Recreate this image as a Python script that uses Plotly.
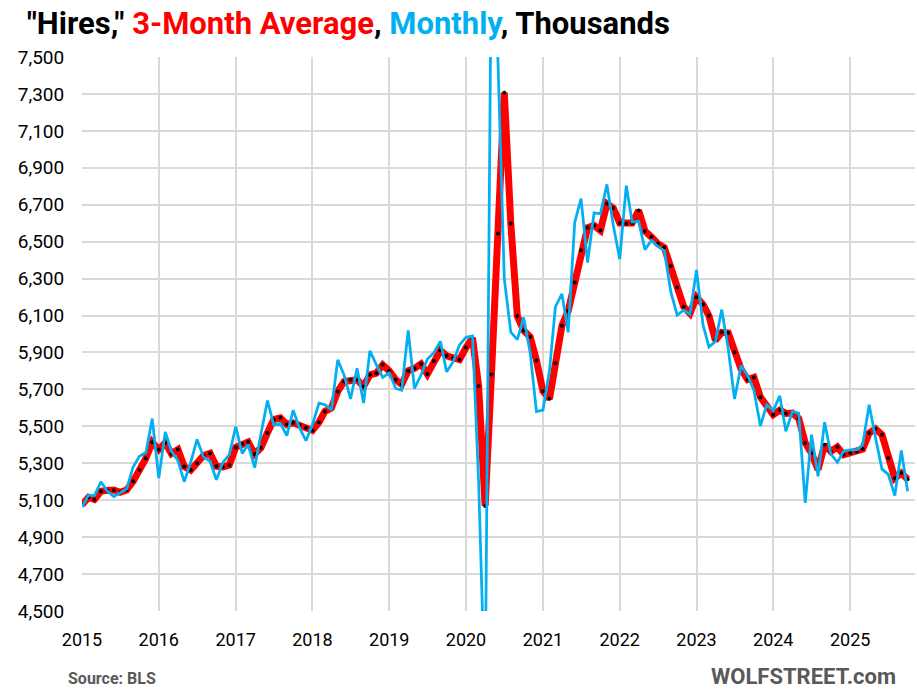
import pandas as pd
import plotly.graph_objects as go

months = pd.date_range("2015-01-01", periods=130, freq="MS")

monthly = [
    5063, 5127, 5125, 5200, 5150, 5120, 5140, 5160, 5280, 5338, 5358, 5542,
    5219, 5470, 5365, 5315, 5200, 5305, 5429, 5333, 5311, 5211, 5305, 5345,
    5499, 5353, 5402, 5276, 5460, 5640, 5507, 5516, 5450, 5587, 5490, 5422,
    5510, 5626, 5617, 5590, 5860, 5775, 5648, 5815, 5626, 5909, 5833, 5765,
    5790, 5705, 5696, 6019, 5705, 5778, 5863, 5899, 5960, 5795, 5850, 5941,
    5982, 5990, 5200, 4000, 8150, 7480, 6300, 6010, 5970, 6090, 5900, 5580,
    5588, 5802, 6147, 6218, 6009, 6605, 6733, 6387, 6656, 6651, 6810, 6590,
    6405, 6804, 6606, 6610, 6457, 6507, 6475, 6450, 6228, 6102, 6129, 6107,
    6347, 6050, 5930, 5960, 6132, 5920, 5648, 5829, 5775, 5695, 5502, 5617,
    5585, 5665, 5473, 5580, 5572, 5085, 5455, 5229, 5522, 5350, 5305, 5366,
    5373, 5373, 5400, 5617, 5440, 5268, 5240, 5125, 5369, 5148,
]

avg3 = [
    5076, 5115, 5104, 5148, 5153, 5155, 5143, 5155, 5202, 5263, 5327, 5414,
    5374, 5411, 5352, 5374, 5282, 5263, 5300, 5342, 5354, 5284, 5280, 5290,
    5386, 5404, 5415, 5350, 5384, 5465, 5537, 5546, 5510, 5519, 5507, 5492,
    5478, 5522, 5581, 5599, 5689, 5743, 5752, 5752, 5716, 5779, 5788, 5833,
    5800, 5752, 5727, 5801, 5814, 5838, 5783, 5854, 5911, 5882, 5870, 5861,
    5927, 5978, 5717, 5069, 5781, 6544, 7307, 6599, 6097, 6019, 5985, 5857,
    5690, 5649, 5842, 6045, 6125, 6279, 6453, 6576, 6588, 6561, 6705, 6682,
    6601, 6597, 6601, 6669, 6557, 6525, 6489, 6468, 6368, 6252, 6148, 6112,
    6199, 6160, 6099, 5966, 6009, 6005, 5901, 5810, 5753, 5765, 5658, 5608,
    5563, 5588, 5570, 5572, 5543, 5410, 5355, 5265, 5400, 5364, 5388, 5346,
    5355, 5364, 5377, 5464, 5486, 5455, 5328, 5219, 5247, 5214,
]

y_ticks = list(range(4500, 7501, 200))
y_tick_labels = [f"{v:,}" for v in y_ticks]
x_years = [f"{y}-01-01" for y in range(2015, 2026)]
x_year_labels = [str(y) for y in range(2015, 2026)]

RED = "#FF0000"
BLUE = "#00B0F0"
GRID = "#D9D9D9"
FONT = "Roboto"

fig = go.Figure()
fig.add_trace(go.Scatter(x=months, y=avg3, mode="lines",
                         line=dict(color=RED, width=7), hoverinfo="skip"))
fig.add_trace(go.Scatter(x=months, y=avg3, mode="markers",
                         marker=dict(color="black", size=4), hoverinfo="skip"))
fig.add_trace(go.Scatter(x=months, y=monthly, mode="lines",
                         line=dict(color=BLUE, width=2.75), hoverinfo="skip"))

fig.update_layout(
    width=917, height=696,
    margin=dict(l=82, r=2, t=57, b=85),
    paper_bgcolor="white", plot_bgcolor="white",
    showlegend=False,
    title=dict(
        text=('<b>"Hires," <span style="color:#FF0000">3-Month Average</span>, '
              '<span style="color:#00B0F0">Monthly</span>, Thousands</b>'),
        x=27 / 917, xanchor="left", xref="container",
        y=1 - 23 / 696, yanchor="middle", yref="container",
        font=dict(family=FONT, size=31, color="black"),
    ),
    xaxis=dict(
        type="date",
        range=["2015-01-01", "2025-11-05"],
        tickvals=x_years, ticktext=x_year_labels,
        showgrid=True, gridcolor=GRID, gridwidth=2,
        showline=False, zeroline=False, automargin=False,
        ticks="outside", ticklen=12, tickcolor="rgba(0,0,0,0)",
        tickfont=dict(family=FONT, size=18, color="black"),
    ),
    yaxis=dict(
        range=[4500, 7500],
        tickvals=y_ticks, ticktext=y_tick_labels,
        showgrid=True, gridcolor=GRID, gridwidth=2,
        showline=False, zeroline=False, automargin=False,
        ticks="outside", ticklen=13, tickcolor="rgba(0,0,0,0)",
        tickfont=dict(family=FONT, size=19, color="black"),
    ),
    annotations=[
        dict(text="<b>Source: BLS</b>", xref="paper", yref="paper",
             x=(66 - 82) / 833, y=(611.5 - 679) / 555, xanchor="left", yanchor="middle",
             showarrow=False, font=dict(family=FONT, size=16, color="#595959")),
        dict(text="<b>WOLFSTREET.com</b>", xref="paper", yref="paper",
             x=(898 - 82) / 833, y=(611.5 - 677) / 555, xanchor="right", yanchor="middle",
             showarrow=False, font=dict(family=FONT, size=22, color="#595959")),
    ],
)

fig.write_html("out.html", config={"displayModeBar": False},
               post_script="document.body.style.margin='0';")
